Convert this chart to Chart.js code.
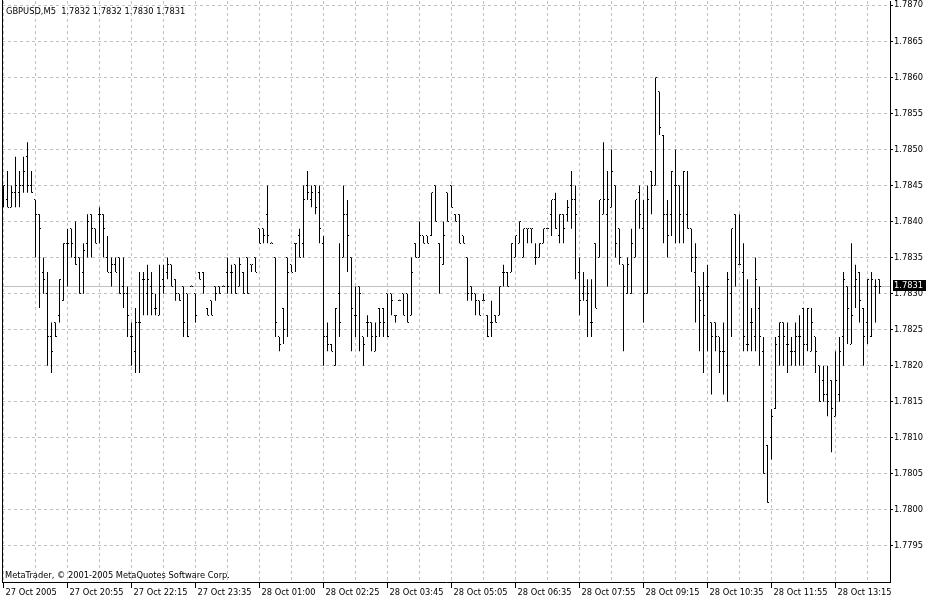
<!DOCTYPE html>
<html>
<head>
<meta charset="utf-8">
<script src="https://cdn.jsdelivr.net/npm/chart.js@4/dist/chart.umd.min.js"></script>
<style>
  html, body { margin: 0; padding: 0; background: #fff; }
  #wrap { width: 930px; height: 600px; }
</style>
</head>
<body>
<div id="wrap"><canvas id="chart" width="930" height="600"></canvas></div>
<script>
const SYMBOL = 'GBPUSD,M5';
const COPYRIGHT = 'MetaTrader, © 2001-2005 MetaQuotes Software Corp.';

// one label every 16 bars (M5 bars, gaps in the feed included)
const TIME_LABELS = [
  '27 Oct 2005', '27 Oct 20:55', '27 Oct 22:15', '27 Oct 23:35', '28 Oct 01:00',
  '28 Oct 02:25', '28 Oct 03:45', '28 Oct 05:05', '28 Oct 06:35', '28 Oct 07:55',
  '28 Oct 09:15', '28 Oct 10:35', '28 Oct 11:55', '28 Oct 13:15',
];

const Y_TICKS = [
  1.7795, 1.7800, 1.7805, 1.7810, 1.7815, 1.7820, 1.7825, 1.7830,
  1.7835, 1.7840, 1.7845, 1.7850, 1.7855, 1.7860, 1.7865, 1.7870,
];

const OPEN = [
  1.7844, 1.7843, 1.7842, 1.7844, 1.7844, 1.7845, 1.7849, 1.7845, 1.7843, 1.7841,
  1.7833, 1.7830, 1.7824, 1.7826, 1.7827, 1.7829, 1.7837, 1.7839, 1.7835, 1.7835,
  1.7833, 1.7837, 1.7841, 1.7839, 1.7841, 1.7841, 1.7835, 1.7833, 1.7834, 1.7835,
  1.7831, 1.7830, 1.7824, 1.7822, 1.7826, 1.7832, 1.7830, 1.7831, 1.7828, 1.7827,
  1.7832, 1.7833, 1.7834, 1.7832, 1.7830, 1.7831, 1.7830, 1.7831, 1.7830, 1.7833,
  1.7833, 1.7828, 1.7829, 1.7831, 1.7831, 1.7831, 1.7833, 1.7833, 1.7834, 1.7831,
  1.7833, 1.7835, 1.7834, 1.7835, 1.7839, 1.7839, 1.7841, 1.7837, 1.7835, 1.7824,
  1.7828, 1.7835, 1.7834, 1.7837, 1.7838, 1.7837, 1.7845, 1.7843, 1.7845, 1.7844,
  1.7837, 1.7824, 1.7823, 1.7820, 1.7830, 1.7835, 1.7841, 1.7835, 1.7827, 1.7831,
  1.7824, 1.7826, 1.7826, 1.7822, 1.7828, 1.7828, 1.7830, 1.7830, 1.7827, 1.7829,
  1.7830, 1.7830, 1.7827, 1.7837, 1.7835, 1.7838, 1.7838, 1.7838, 1.7845, 1.7837,
  1.7834, 1.7844, 1.7845, 1.7841, 1.7841, 1.7838, 1.7835, 1.7831, 1.7830, 1.7829,
  1.7829, 1.7827, 1.7826, 1.7827, 1.7827, 1.7833, 1.7833, 1.7833, 1.7835, 1.7837,
  1.7835, 1.7839, 1.7839, 1.7835, 1.7835, 1.7837, 1.7839, 1.7841, 1.7843, 1.7838,
  1.7841, 1.7841, 1.7845, 1.7843, 1.7833, 1.7830, 1.7829, 1.7826, 1.7837, 1.7835,
  1.7841, 1.7841, 1.7842, 1.7845, 1.7839, 1.7834, 1.7830, 1.7830, 1.7835, 1.7844,
  1.7839, 1.7830, 1.7847, 1.7845, 1.7858, 1.7852, 1.7841, 1.7841, 1.7845, 1.7845,
  1.7840, 1.7841, 1.7839, 1.7833, 1.7831, 1.7830, 1.7831, 1.7826, 1.7826, 1.7824,
  1.7822, 1.7820, 1.7830, 1.7841, 1.7834, 1.7833, 1.7823, 1.7826, 1.7824, 1.7828,
  1.7822, 1.7809, 1.7810, 1.7814, 1.7824, 1.7826, 1.7823, 1.7822, 1.7822, 1.7824,
  1.7828, 1.7823, 1.7822, 1.7824, 1.7820, 1.7818, 1.7816, 1.7818, 1.7813, 1.7816,
  1.7824, 1.7831, 1.7823, 1.7831, 1.7833, 1.7828, 1.7826, 1.7824, 1.7831, 1.7832,
];

const HIGH = [
  1.7845, 1.7847, 1.7845, 1.7849, 1.7847, 1.7849, 1.7851, 1.7847, 1.7843, 1.7841,
  1.7835, 1.7833, 1.7826, 1.7826, 1.7832, 1.7837, 1.7839, 1.7839, 1.7840, 1.7835,
  1.7837, 1.7841, 1.7841, 1.7839, 1.7842, 1.7841, 1.7838, 1.7835, 1.7835, 1.7835,
  1.7835, 1.7831, 1.7826, 1.7828, 1.7833, 1.7833, 1.7834, 1.7833, 1.7830, 1.7834,
  1.7834, 1.7835, 1.7834, 1.7832, 1.7830, 1.7831, 1.7830, 1.7831, 1.7830, 1.7833,
  1.7833, 1.7828, 1.7829, 1.7831, 1.7831, 1.7831, 1.7835, 1.7834, 1.7834, 1.7835,
  1.7833, 1.7835, 1.7834, 1.7835, 1.7839, 1.7839, 1.7845, 1.7837, 1.7835, 1.7824,
  1.7828, 1.7835, 1.7834, 1.7837, 1.7839, 1.7845, 1.7847, 1.7845, 1.7845, 1.7845,
  1.7838, 1.7826, 1.7823, 1.7828, 1.7837, 1.7845, 1.7843, 1.7835, 1.7831, 1.7831,
  1.7824, 1.7827, 1.7826, 1.7826, 1.7828, 1.7828, 1.7830, 1.7830, 1.7827, 1.7829,
  1.7830, 1.7830, 1.7835, 1.7837, 1.7840, 1.7838, 1.7838, 1.7844, 1.7845, 1.7837,
  1.7840, 1.7844, 1.7845, 1.7841, 1.7841, 1.7838, 1.7835, 1.7831, 1.7830, 1.7829,
  1.7830, 1.7827, 1.7829, 1.7827, 1.7831, 1.7834, 1.7833, 1.7837, 1.7838, 1.7840,
  1.7839, 1.7839, 1.7839, 1.7837, 1.7837, 1.7839, 1.7839, 1.7843, 1.7844, 1.7841,
  1.7841, 1.7843, 1.7847, 1.7845, 1.7835, 1.7833, 1.7832, 1.7832, 1.7837, 1.7843,
  1.7851, 1.7847, 1.7850, 1.7845, 1.7839, 1.7834, 1.7835, 1.7839, 1.7843, 1.7845,
  1.7843, 1.7845, 1.7847, 1.7860, 1.7858, 1.7852, 1.7843, 1.7847, 1.7850, 1.7845,
  1.7847, 1.7847, 1.7839, 1.7837, 1.7831, 1.7833, 1.7834, 1.7826, 1.7826, 1.7824,
  1.7826, 1.7833, 1.7839, 1.7841, 1.7841, 1.7837, 1.7832, 1.7828, 1.7835, 1.7831,
  1.7824, 1.7809, 1.7814, 1.7824, 1.7826, 1.7826, 1.7826, 1.7824, 1.7826, 1.7827,
  1.7828, 1.7828, 1.7828, 1.7824, 1.7820, 1.7820, 1.7820, 1.7818, 1.7822, 1.7824,
  1.7833, 1.7831, 1.7837, 1.7834, 1.7833, 1.7828, 1.7832, 1.7833, 1.7832, 1.7832,
];

const LOW = [
  1.7842, 1.7842, 1.7842, 1.7842, 1.7842, 1.7844, 1.7844, 1.7844, 1.7835, 1.7828,
  1.7830, 1.7820, 1.7819, 1.7824, 1.7826, 1.7829, 1.7831, 1.7835, 1.7834, 1.7830,
  1.7830, 1.7835, 1.7835, 1.7837, 1.7837, 1.7835, 1.7833, 1.7831, 1.7833, 1.7830,
  1.7828, 1.7824, 1.7820, 1.7819, 1.7819, 1.7827, 1.7827, 1.7827, 1.7827, 1.7827,
  1.7830, 1.7832, 1.7831, 1.7829, 1.7829, 1.7824, 1.7824, 1.7831, 1.7826, 1.7832,
  1.7830, 1.7827, 1.7827, 1.7829, 1.7830, 1.7831, 1.7830, 1.7830, 1.7830, 1.7831,
  1.7830, 1.7830, 1.7833, 1.7833, 1.7837, 1.7837, 1.7837, 1.7837, 1.7824, 1.7822,
  1.7823, 1.7824, 1.7833, 1.7833, 1.7835, 1.7835, 1.7843, 1.7842, 1.7841, 1.7837,
  1.7820, 1.7822, 1.7822, 1.7820, 1.7824, 1.7835, 1.7833, 1.7822, 1.7824, 1.7822,
  1.7820, 1.7824, 1.7822, 1.7822, 1.7824, 1.7824, 1.7824, 1.7827, 1.7826, 1.7829,
  1.7827, 1.7826, 1.7827, 1.7835, 1.7835, 1.7837, 1.7837, 1.7838, 1.7840, 1.7830,
  1.7834, 1.7840, 1.7842, 1.7840, 1.7837, 1.7837, 1.7829, 1.7829, 1.7827, 1.7827,
  1.7829, 1.7824, 1.7824, 1.7826, 1.7827, 1.7831, 1.7831, 1.7833, 1.7835, 1.7837,
  1.7835, 1.7837, 1.7837, 1.7834, 1.7835, 1.7837, 1.7839, 1.7838, 1.7839, 1.7837,
  1.7837, 1.7840, 1.7839, 1.7832, 1.7827, 1.7829, 1.7824, 1.7824, 1.7828, 1.7835,
  1.7841, 1.7831, 1.7842, 1.7835, 1.7834, 1.7822, 1.7830, 1.7830, 1.7835, 1.7839,
  1.7826, 1.7830, 1.7841, 1.7845, 1.7852, 1.7837, 1.7835, 1.7838, 1.7837, 1.7837,
  1.7837, 1.7839, 1.7833, 1.7826, 1.7822, 1.7819, 1.7822, 1.7816, 1.7822, 1.7819,
  1.7816, 1.7815, 1.7824, 1.7831, 1.7834, 1.7822, 1.7822, 1.7822, 1.7822, 1.7820,
  1.7805, 1.7801, 1.7807, 1.7814, 1.7820, 1.7820, 1.7819, 1.7820, 1.7820, 1.7820,
  1.7820, 1.7822, 1.7822, 1.7819, 1.7815, 1.7815, 1.7813, 1.7808, 1.7813, 1.7815,
  1.7820, 1.7823, 1.7823, 1.7828, 1.7826, 1.7820, 1.7823, 1.7824, 1.7826, 1.7830,
];

const CLOSE = [
  1.7845, 1.7842, 1.7844, 1.7845, 1.7845, 1.7847, 1.7845, 1.7844, 1.7841, 1.7839,
  1.7832, 1.7824, 1.7822, 1.7824, 1.7832, 1.7837, 1.7837, 1.7837, 1.7834, 1.7830,
  1.7836, 1.7840, 1.7839, 1.7837, 1.7841, 1.7839, 1.7833, 1.7834, 1.7833, 1.7830,
  1.7830, 1.7827, 1.7824, 1.7826, 1.7826, 1.7832, 1.7832, 1.7830, 1.7828, 1.7831,
  1.7831, 1.7834, 1.7831, 1.7830, 1.7829, 1.7826, 1.7824, 1.7831, 1.7827, 1.7832,
  1.7831, 1.7827, 1.7827, 1.7830, 1.7830, 1.7831, 1.7831, 1.7833, 1.7830, 1.7834,
  1.7830, 1.7830, 1.7834, 1.7833, 1.7837, 1.7838, 1.7838, 1.7837, 1.7826, 1.7823,
  1.7825, 1.7833, 1.7833, 1.7837, 1.7835, 1.7843, 1.7844, 1.7844, 1.7842, 1.7839,
  1.7824, 1.7823, 1.7822, 1.7828, 1.7826, 1.7841, 1.7838, 1.7828, 1.7827, 1.7830,
  1.7823, 1.7826, 1.7824, 1.7824, 1.7826, 1.7826, 1.7824, 1.7829, 1.7827, 1.7829,
  1.7827, 1.7826, 1.7833, 1.7835, 1.7838, 1.7837, 1.7837, 1.7844, 1.7840, 1.7835,
  1.7838, 1.7840, 1.7842, 1.7840, 1.7837, 1.7837, 1.7830, 1.7830, 1.7829, 1.7827,
  1.7829, 1.7824, 1.7826, 1.7826, 1.7831, 1.7833, 1.7831, 1.7837, 1.7838, 1.7840,
  1.7839, 1.7839, 1.7839, 1.7835, 1.7837, 1.7839, 1.7839, 1.7843, 1.7839, 1.7841,
  1.7839, 1.7842, 1.7843, 1.7841, 1.7829, 1.7831, 1.7830, 1.7826, 1.7828, 1.7843,
  1.7843, 1.7843, 1.7847, 1.7837, 1.7835, 1.7831, 1.7834, 1.7837, 1.7843, 1.7841,
  1.7830, 1.7843, 1.7845, 1.7860, 1.7853, 1.7841, 1.7838, 1.7847, 1.7845, 1.7841,
  1.7847, 1.7839, 1.7835, 1.7835, 1.7829, 1.7827, 1.7831, 1.7824, 1.7824, 1.7822,
  1.7822, 1.7832, 1.7839, 1.7835, 1.7834, 1.7824, 1.7823, 1.7826, 1.7832, 1.7824,
  1.7805, 1.7801, 1.7813, 1.7823, 1.7826, 1.7824, 1.7823, 1.7822, 1.7824, 1.7824,
  1.7823, 1.7828, 1.7826, 1.7822, 1.7815, 1.7816, 1.7815, 1.7814, 1.7818, 1.7822,
  1.7832, 1.7828, 1.7827, 1.7832, 1.7829, 1.7824, 1.7832, 1.7832, 1.7831, 1.7831,
];

const LAST = CLOSE.length - 1;
const GRID_COLOR = '#c0c0c0';
const FONT_FAMILY = '"DejaVu Sans", sans-serif';
const FONT_SIZE = 8.3;

Chart.defaults.font.family = FONT_FAMILY;
Chart.defaults.font.size = FONT_SIZE;
Chart.defaults.color = '#000';

// open/close ticks, bid line, header and price label
const ohlcExtras = {
  id: 'ohlcExtras',
  beforeDatasetsDraw(chart) {
    const { ctx, chartArea: a, scales: { y } } = chart;
    const py = Math.round(y.getPixelForValue(CLOSE[LAST])) + 0.5;
    ctx.save();
    ctx.strokeStyle = GRID_COLOR;
    ctx.lineWidth = 1;
    ctx.beginPath();
    ctx.moveTo(a.left, py);
    ctx.lineTo(a.right, py);
    ctx.stroke();
    ctx.restore();
  },
  afterDatasetsDraw(chart) {
    const { ctx, scales: { x, y } } = chart;
    ctx.save();
    ctx.fillStyle = '#000';
    OPEN.forEach((o, i) => {
      const px = x.getPixelForValue(i);
      ctx.fillRect(px - 1.5, Math.floor(y.getPixelForValue(o)), 1, 1);
      ctx.fillRect(px + 0.5, Math.floor(y.getPixelForValue(CLOSE[i])), 1, 1);
    });
    ctx.restore();
  },
  afterDraw(chart) {
    const { ctx, chartArea: a, scales: { y } } = chart;
    ctx.save();
    ctx.strokeStyle = '#000';
    ctx.lineWidth = 1;
    ctx.beginPath();
    ctx.moveTo(a.left + 0.5, 0);
    ctx.lineTo(a.left + 0.5, a.bottom);
    ctx.stroke();

    ctx.font = `${FONT_SIZE}px ${FONT_FAMILY}`;
    ctx.fillStyle = '#000';
    ctx.textBaseline = 'alphabetic';
    ctx.textAlign = 'left';
    const head = [OPEN[LAST], HIGH[LAST], LOW[LAST], CLOSE[LAST]].map((v) => v.toFixed(4)).join(' ');
    ctx.fillText(`${SYMBOL}  ${head}`, 6, 14);
    ctx.fillText(COPYRIGHT, 5, 578);

    const py = Math.round(y.getPixelForValue(CLOSE[LAST]));
    ctx.fillRect(a.right + 3, py - 6, 33, 11);
    ctx.fillStyle = '#fff';
    ctx.textBaseline = 'middle';
    ctx.fillText(CLOSE[LAST].toFixed(4), a.right + 4, py);
    ctx.restore();
  },
};

new Chart(document.getElementById('chart'), {
  type: 'bar',
  data: {
    datasets: [{
      data: HIGH.map((h, i) => ({ x: i, y: [LOW[i], h] })),
      backgroundColor: '#000',
      borderWidth: 0,
      inflateAmount: 0,
      barThickness: 1,
      minBarLength: 1,
    }],
  },
  options: {
    responsive: false,
    animation: false,
    devicePixelRatio: 1,
    events: [],
    layout: { padding: { left: 2, top: 1, right: 0, bottom: 0 } },
    plugins: {
      legend: { display: false },
      tooltip: { enabled: false },
    },
    scales: {
      x: {
        type: 'linear',
        offset: false,
        min: -0.375,
        max: 221.625,
        afterBuildTicks: (s) => {
          s.ticks = TIME_LABELS.flatMap((_, k) => [{ value: k * 16 }, { value: k * 16 + 8 }]);
        },
        afterFit: (s) => {
          s.height = 18;
          s.paddingLeft = 0;
          s.paddingRight = 0;
        },
        grid: {
          color: GRID_COLOR,
          offset: false,
          tickLength: 6,
          tickColor: (c) => (c.tick && c.tick.value % 16 === 0 ? '#000' : 'rgba(0,0,0,0)'),
        },
        border: { color: '#000', dash: [3, 3] },
        ticks: {
          autoSkip: false,
          maxRotation: 0,
          minRotation: 0,
          align: 'start',
          labelOffset: 2,
          padding: 0,
          callback: (v) => (v % 16 === 0 ? TIME_LABELS[v / 16] : ''),
        },
      },
      y: {
        position: 'right',
        min: 1.779,
        max: 1.78706,
        afterBuildTicks: (s) => {
          s.ticks = Y_TICKS.map((v) => ({ value: v }));
        },
        afterFit: (s) => {
          s.width = 40;
          s.paddingTop = 0;
          s.paddingBottom = 0;
        },
        grid: { color: GRID_COLOR, tickColor: '#000', tickLength: 3 },
        border: { color: '#000', dash: [3, 3] },
        ticks: {
          autoSkip: false,
          padding: 1,
          callback: (v) => v.toFixed(4),
        },
      },
    },
  },
  plugins: [ohlcExtras],
});
</script>
</body>
</html>
